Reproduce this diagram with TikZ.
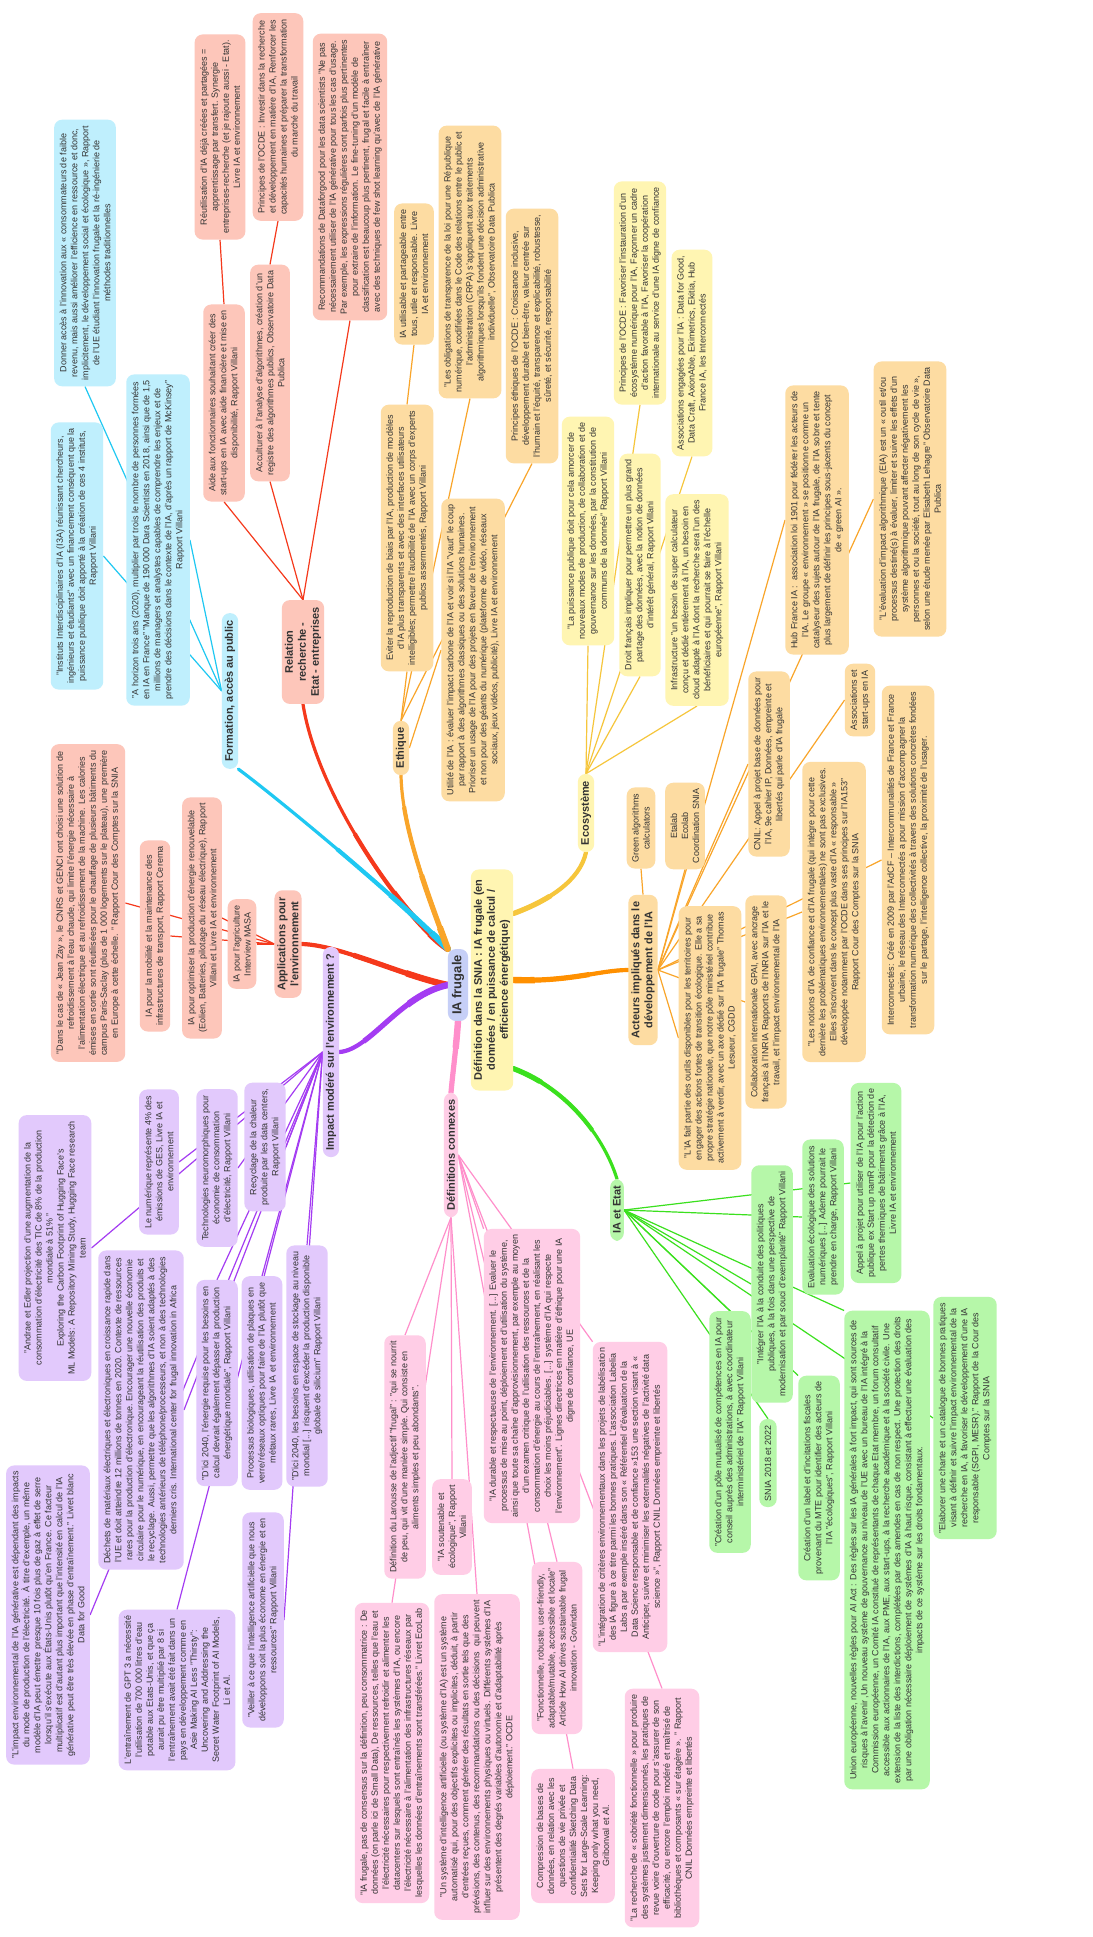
\documentclass[tikz,border=0pt]{standalone}
\usepackage{fontspec}
\setmainfont{Liberation Sans}
\usetikzlibrary{backgrounds,calc}
\definecolor{txt}{HTML}{333333}
\definecolor{redL}{HTML}{F5391C}
\definecolor{redF}{HTML}{FDC6BA}
\definecolor{cyanL}{HTML}{1FC8F2}
\definecolor{cyanF}{HTML}{BFEFFD}
\definecolor{oraL}{HTML}{F9A52A}
\definecolor{oraF}{HTML}{FDDCA2}
\definecolor{oraD}{HTML}{FF9000}
\definecolor{yelL}{HTML}{F6C63C}
\definecolor{yelF}{HTML}{FFF5B2}
\definecolor{grnL}{HTML}{3BE01E}
\definecolor{grnF}{HTML}{B6F7A9}
\definecolor{pnkL}{HTML}{FF8FCB}
\definecolor{pnkF}{HTML}{FFCDE6}
\definecolor{purL}{HTML}{A43CF2}
\definecolor{purF}{HTML}{E2C9FC}
\definecolor{ctrF}{HTML}{C6CFF7}
\tikzset{
  leaf/.style={rounded corners=8pt, rotate=90, align=center, inner xsep=6pt, inner ysep=5.5pt,
    font=\fontsize{9}{11}\selectfont, text=txt},
  mainb/.style={rounded corners=8pt, rotate=90, align=center, inner xsep=7pt, inner ysep=3pt,
    font=\fontsize{11}{13}\selectfont\bfseries, text=txt},
  rleaf/.style={leaf, fill=redF}, cleaf/.style={leaf, fill=cyanF}, oleaf/.style={leaf, fill=oraF},
  yleaf/.style={leaf, fill=yelF}, gleaf/.style={leaf, fill=grnF}, pleaf/.style={leaf, fill=pnkF},
  vleaf/.style={leaf, fill=purF},
  twig/.style={line width=1.2pt}
}
\newcommand\drawbranches[1]{%
\draw[line width=#1, line cap=round, redL] (ctr.north east) .. controls (410,925) and (318,800) .. (R0.west);
\draw[line width=#1, line cap=round, redL] (ctr.north) .. controls (400,975) and (340,945) .. (A0.south);
\draw[line width=#1, line cap=round, cyanL] (ctr.north east) .. controls (400,900) and (280,800) .. (F0.south west);
\draw[line width=#1, line cap=round, oraL] (ctr.north east) .. controls (430,900) and (402,830) .. (E0.west);
\draw[line width=#1, line cap=round, purL] (ctr.north) .. controls (400,995) and (370,1050) .. (I0.south);
\draw[line width=#1, line cap=round, pnkL] (ctr.west) .. controls (456,1050) and (453,1070) .. (P0.east);
\draw[line width=#1, line cap=round, yelL] ($(def.south)!0.6!(def.south east)$) .. controls (550,900) and (580,880) .. (Y0.west);
\draw[line width=#1, line cap=round, oraD] (def.south) .. controls (570,982) and (600,970) .. (Ac0.north);
\draw[line width=#1, line cap=round, grnL] ($(def.south)!0.8!(def.south west)$) .. controls (570,1090) and (605,1140) .. (G0.east);
}
\begin{document}
\begin{tikzpicture}[x=1pt,y=-1pt]
\useasboundingbox (0,0) rectangle (1092,1937);
% ---------- centre ----------
\node[rounded corners=8pt, rotate=90, fill=ctrF, text=txt, inner xsep=6pt, inner ysep=4pt,
  font=\fontsize{13}{15}\selectfont\bfseries] (ctr) at (458,985) {IA frugale};
\node[rounded corners=8pt, rotate=90, fill=yelF, text=txt, align=center, inner xsep=10pt, inner ysep=3pt,
  font=\fontsize{11}{13}\selectfont\bfseries] (def) at (492,980)
  {Définition dans la SNIA : IA frugale (en\\données / en puissance de calcul /\\efficience énergétique)};
% ---------- Relation ----------
\node[mainb, fill=redF] (R0) at (303,652) {Relation\\recherche -\\Etat - entreprises};
\node[rleaf] (r1) at (224,403) {Aide aux fonctionnaires souhaitant créer des\\start-ups en IA avec aide financière et mise en\\disponibilité, Rapport Villani};
\node[rleaf] (r2) at (220,137) {Réutilisation d'IA déjà créées et partagées =\\apprentissage par transfert. Synergie\\entreprises-recherche (et je rajoute aussi - Etat).\\Livre IA et environnement};
\node[rleaf] (r3) at (270,373) {Acculturer à l'analyse d'algorithmes, création d'un\\registre des algorithmes publics, Observatoire Data\\Publica};
\node[rleaf] (r4) at (278,117) {Principes de l'OCDE : Investir dans la recherche\\et développement en matière d'IA, Renforcer les\\capacités humaines et préparer la transformation\\du marché du travail};
\node[rleaf] (r5) at (350,177) {Recommandations de Dataforgood pour les data scientists "Ne pas\\nécessairement utiliser de l'IA générative pour tous les cas d'usage.\\Par exemple, les expressions régulières sont parfois plus pertinentes\\pour extraire de l'information. Le fine-tuning d'un modèle de\\classification est beaucoup plus pertinent, frugal et facile à entraîner\\avec des techniques de few shot learning qu'avec de l'IA générative};
% ---------- Formation ----------
\node[mainb, fill=cyanF] (F0) at (230,691) {Formation, accès au public};
\node[cleaf] (f1) at (158,540) {"A horizon trois ans (2020), multiplier par trois le nombre de personnes formées\\en IA en France" "Manque de 190 000 Dara Scientists en 2018, ainsi que de 1,5\\millions de managers et analystes capables de comprendre les enjeux et de\\prendre des décisions dans le contexte de l'IA, d'après un rapport de McKinsey"\\Rapport Villani};
\node[cleaf] (f2) at (77,556) {"Instituts Interdisciplinaires d'IA (I3A) réunissant chercheurs,\\ingénieurs et étudiants" avec un financement conséquent que la\\puissance publique doit apporté à la création de ces 4 instituts,\\Rapport Villani};
\node[cleaf] (f3) at (85,253) {Donner accès à l'innovation aux « consommateurs de faible\\revenu, mais aussi améliorer l'efficience en ressource et donc,\\implicitement, le développement social et écologique », Rapport\\de l'UE étudiant l'innovation frugale et la ré-ingénierie de\\méthodes traditionnelles};
% ---------- Applications ----------
\node[mainb, fill=redF] (A0) at (288,944) {Applications pour\\l'environnement};
\node[rleaf] (a1) at (242,944) {IA pour l'agriculture\\Interview MASA};
\node[rleaf] (a2) at (202,918) {IA pour optimiser la production d'énergie renouvelable\\(Eolien, Batteries, pilotage du réseau électrique), Rapport\\Villani et Livre IA et environnement};
\node[rleaf] (a3) at (155,936) {IA pour la mobilité et la maintenance des\\infrastructures de transport, Rapport Cerema};
\node[rleaf] (a4) at (88,903) {"Dans le cas de « Jean Zay », le CNRS et GENCI ont choisi une solution de\\refroidissement à l'eau chaude, qui limite l'énergie nécessaire à\\l'alimentation électrique et au refroidissement de la machine. Les calories\\émises en sortie sont réutilisées pour le chauffage de plusieurs bâtiments du\\campus Paris-Saclay (plus de 1 000 logements sur le plateau), une première\\en Europe à cette échelle. " Rapport Cour des Comptes sur la SNIA};
% ---------- Impact ----------
\node[mainb, fill=purF] (I0) at (331,1052) {Impact modéré sur l'environnement ?};
\node[vleaf] (i1) at (265,1147) {Recyclage de la chaleur\\produite par les data centers,\\Rapport Villani};
\node[vleaf] (i2) at (217,1168) {Technologies neuromorphiques pour\\économie de consommation\\d'électricité, Rapport Villani};
\node[vleaf] (i3) at (159,1162) {Le numérique représente 4\% des\\émissions de GES, Livre IA et\\environnement};
\node[vleaf] (i4) at (55,1248) {"Andrae et Edler projection d'une augmentation de la\\consommation d'électricité des TIC de 8\% de la production\\mondiale à 51\% "\\Exploring the Carbon Footprint of Hugging Face's\\ML Models: A Repository Mining Study, Hugging Face research\\team};
\node[vleaf] (i5) at (307,1366) {"D'ici 2040, les besoins en espace de stockage au niveau\\mondial [...] risquent d'excéder la production disponible\\globale de silicium" Rapport Villani};
\node[vleaf] (i6) at (262,1383) {Processus biologiques, utilisation de plaques en\\verre/réseaux optiques pour faire de l'IA plutôt que\\métaux rares, Livre IA et environnement};
\node[vleaf] (i7) at (217,1383) {"D'ici 2040, l'énergie requise pour les besoins en\\calcul devrait également dépasser la production\\énergétique mondiale", Rapport Villani};
\node[vleaf] (i8) at (141,1410) {Déchets de matériaux électriques et électroniques en croissance rapide dans\\l'UE et doit atteindre 12 millions de tonnes en 2020. Contexte de ressources\\rares pour la production d'électronique. Encourager une nouvelle économie\\circulaire pour le numérique, en encourageant la réutilisation des produits et\\le recyclage. Aussi, permettre que les algorithmes d'IA soient adaptés à des\\technologies antérieurs de téléphone/processeurs, et non à des technologies\\derniers cris. International center for frugal innovation in Africa};
\node[vleaf] (i9) at (48,1615) {"L'impact environnemental de l'IA générative est dépendant des impacts\\du mode de production de l'électricité. À titre d'exemple, un même\\modèle d'IA peut émettre presque 10 fois plus de gaz à effet de serre\\lorsqu'il s'exécute aux États-Unis plutôt qu'en France. Ce facteur\\multiplicatif est d'autant plus important que l'intensité en calcul de l'IA\\générative peut être très élevée en phase d'entraînement." Livret blanc\\Data for Good};
\node[vleaf] (i10) at (177,1690) {L'entraînement de GPT 3 a nécessité\\l'utilisation de 700 000 litres d'eau\\potable aux Etats-Unis, et que ça\\aurait pu être multiplié par 8 si\\l'entraînement avait été fait dans un\\pays en développement comme en\\Asie Making AI Less "Thirsty":\\Uncovering and Addressing the\\Secret Water Footprint of AI Models,\\Li et Al.};
\node[vleaf] (i11) at (263,1620) {"Veiller à ce que l'intelligence artificielle que nous\\développons soit la plus économe en énergie et en\\ressources" Rapport Villani};
% ---------- Ethique ----------
\node[mainb, fill=oraF] (E0) at (401,748) {Ethique};
\node[oleaf] (e1) at (407,538) {Eviter la reproduction de biais par l'IA, production de modèles\\d'IA plus transparents et avec des interfaces utilisateurs\\intelligibles; permettre l'audibilité de l'IA avec un corps d'experts\\publics assermentés, Rapport Villani};
\node[oleaf] (e2) at (414,274) {IA utilisable et partageable entre\\tous, utile et responsable. Livre\\IA et environnement};
\node[oleaf] (e3) at (470,262) {"Les obligations de transparence de la loi pour une République\\numérique, codifiées dans le Code des relations entre le public et\\l'administration (CRPA) s'appliquent aux traitements\\algorithmiques lorsqu'ils fondent une décision administrative\\individuelle", Observatoire Data Publica};
\node[oleaf] (e4) at (473,650) {Utilité de l'IA : évaluer l'impact carbone de l'IA et voir si l'IA "vaut" le coup\\par rapport à des algorithmes classiques ou des solutions humaines.\\Prioriser un usage de l'IA pour des projets en faveur de l'environnement\\et non pour des géants du numérique (plateforme de vidéo, réseaux\\sociaux, jeux vidéos, publicité), Livre IA et environnement};
\node[oleaf] (e5) at (532,336) {Principes éthiques de l'OCDE : Croissance inclusive,\\développement durable et bien-être, valeur centrée sur\\l'humain et l'équité, transparence et explicabilité, robustesse,\\sûreté, et sécurité, responsabilité};
% ---------- Ecosysteme ----------
\node[mainb, fill=yelF] (Y0) at (586,813) {Ecosystème};
\node[yleaf] (y1) at (588,531) {"La puissance publique doit pour cela amorcer de\\nouveaux modes de production, de collaboration et de\\gouvernance sur les données, par la constitution de\\communs de la donnée" Rapport Villani};
\node[yleaf] (y2) at (640,565) {Droit français impliquer pour permettre un plus grand\\partage des données, avec la notion de données\\d'intérêt général, Rapport Villani};
\node[yleaf] (y3) at (640,293) {Principes de l'OCDE : Favoriser l'instauration d'un\\écosystème numérique pour l'IA, Façonner un cadre\\d'action favorable à l'IA, Favoriser la coopération\\internationale au service d'une IA digne de confiance};
\node[yleaf] (y4) at (697,600) {Infrastructure "un besoin de super calculateur\\conçu et dédié entièrement à l'IA, un besoin en\\cloud adapté à l'IA dont la recherche sera l'un des\\bénéficiaires et qui pourrait se faire à l'échelle\\européenne", Rapport Villani};
\node[yleaf] (y5) at (692,353) {Associations engagées pour l'IA : Data for Good,\\Data Craft, AxionAble, Ekimetrics, Ekitia, Hub\\France IA, les Interconnectés};
% ---------- Acteurs ----------
\node[mainb, fill=oraF] (Ac0) at (643,970) {Acteurs impliqués dans le\\développement de l'IA};
\node[oleaf] (c1) at (641,828) {Green algorithms\\calculators};
\node[oleaf] (c2) at (685,826) {Etalab\\Ecolab\\Coordination SNIA};
\node[oleaf] (c3) at (710,1038) {"L'IA fait partie des outils disponibles pour les territoires pour\\engager des actions fortes de transition écologique. Elle a sa\\propre stratégie nationale, que notre pôle ministériel contribue\\activement à verdir, avec un axe dédié sur l'IA frugale" Thomas\\Lesueur, CGDD};
\node[oleaf] (c4) at (769,764) {CNIL: Appel à projet base de données pour\\l'IA, 9e cahier IP, Données, empreinte et\\libertés qui parle d'IA frugale};
\node[oleaf] (c5) at (860,700) {Associations et\\start-ups en IA};
\node[oleaf] (c6) at (817,520) {Hub France IA :\ \ association loi 1901 pour fédérer les acteurs de\\l'IA. Le groupe « environnement » se positionne comme un\\catalyseur des sujets autour de l'IA frugale, de l'IA sobre et tente\\plus largement de définir les principes sous-jacents du concept\\de « green AI ».};
\node[oleaf] (c7) at (910,499) {"L'évaluation d'impact algorithmique (EIA) est un « outil et/ou\\processus destiné(s) à évaluer, limiter et suivre les effets d'un\\système algorithmique pouvant affecter négativement les\\personnes et ou la société, tout au long de son cycle de vie »,\\selon une étude menée par Elisabeth Lehagre" Observatoire Data\\Publica};
\node[oleaf] (c8) at (834,912) {"Les notions d'IA de confiance et d'IA frugale (qui intègre pour cette\\dernière les problématiques environnementales) ne sont pas exclusives.\\Elles s'inscrivent dans le concept plus vaste d'IA « responsable »\\développée notamment par l'OCDE dans ses principes sur l'IA153"\\Rapport Cour des Comptes sur la SNIA};
\node[oleaf] (c9) at (766,1002) {Collaboration internationale GPAI, avec ancrage\\français à l'INRIA Rapports de l'INRIA sur l'IA et le\\travail, et l'impact environnemental de l'IA};
\node[oleaf] (c10) at (908,860) {Interconnectés: Créé en 2009 par l'AdCF – Intercommunalités de France et France\\urbaine, le réseau des Interconnectés a pour mission d'accompagner la\\transformation numérique des collectivités à travers des solutions concrètes fondées\\sur le partage, l'intelligence collective, la proximité de l'usager.};
% ---------- IA et Etat ----------
\node[mainb, fill=grnF] (G0) at (617,1210) {IA et Etat};
\node[gleaf] (g1) at (772,1284) {"Intégrer l'IA à la conduite des politiques\\publiques, à la fois dans une perspective de\\modernisation et par souci d'exemplarité" Rapport Villani};
\node[gleaf] (g2) at (823,1217) {Evaluation écologique des solutions\\numériques [...] Ademe pourrait le\\prendre en charge, Rapport Villani};
\node[gleaf] (g3) at (876,1183) {Appel à projet pour utiliser de l'IA pour l'action\\publique ex Start up namR pour la détection de\\pertes thermiques de bâtiments grâce à l'IA,\\Livre IA et environnement};
\node[gleaf] (g4) at (887,1550) {Union européenne, nouvelles règles pour AI Act : Des règles sur les IA générales à fort impact, qui sont sources de\\risques à l'avenir ,Un nouveau système de gouvernance au niveau de l'UE avec un bureau de l'IA intégré à la\\Commission européenne, un Comité IA constitué de représentants de chaque Etat membre, un forum consultatif\\accessible aux actionnaires de l'IA, aux PME, aux start-ups, à la recherche académique et à la société civile. Une\\extension de la liste des interdictions, complétées par des amendes en cas de non respect. Une protection des droits\\par une obligation nécessaire déploiement de systèmes d'IA à haut risque, consistant à effectuer une évaluation des\\impacts de ce système sur les droits fondamentaux.};
\node[gleaf] (g5) at (965,1418) {"Elaborer une charte et un catalogue de bonnes pratiques\\visant à définir et suivre l'impact environnemental de la\\recherche en IA, à favoriser le développement d'une IA\\responsable (SGPI, MESR)." Rapport de la Cour des\\Comptes sur la SNIA};
\node[gleaf] (g6) at (819,1478) {Création d'un label et d'incitations fiscales\\provenant du MTE pour identifier des acteurs de\\l'IA "écologiques", Rapport Villani};
\node[gleaf] (g7) at (768,1463) {SNIA 2018 et 2022};
\node[gleaf] (g8) at (730,1432) {"Création d'un pôle mutualisé de compétences en IA pour\\conseil auprès des administrations, à avec coordinateur\\interministériel de l'IA" Rapport Villani};
% ---------- Definitions ----------
\node[mainb, fill=pnkF] (P0) at (451,1155) {Définitions connexes};
\node[pleaf] (p1) at (405,1457) {Définition du Larousse de l'adjectif "frugal" : "qui se nourrit\\de peu, qui vit d'une manière simple. Qui consiste en\\aliments simples et peu abondants".};
\node[pleaf] (p2) at (452,1527) {"IA soutenable et\\écologique", Rapport\\Villani};
\node[pleaf] (p3) at (392,1753) {"IA frugale, pas de consensus sur la définition, peu consommatrice : De\\données (on parle ici de Small Data), De ressources, telles que l'eau et\\l'électricité nécessaires pour respectivement refroidir et alimenter les\\datacenters sur lesquels sont entraînés les systèmes d'IA, ou encore\\l'électricité nécessaire à l'alimentation des infrastructures réseaux par\\lesquelles les données d'entraînements sont transférées." Livret EcoLab};
\node[pleaf] (p4) at (477,1757) {"Un système d'intelligence artificielle (ou système d'IA) est un système\\automatisé qui, pour des objectifs explicites ou implicites, déduit, à partir\\d'entrées reçues, comment générer des résultats en sortie tels que des\\prévisions, des contenus, des recommandations ou des décisions\ \ qui peuvent\\influer sur des environnements physiques ou virtuels. Différents systèmes d'IA\\présentent des degrés variables d'autonomie et d'adaptabilité après\\déploiement." OCDE};
\node[pleaf] (p5) at (532,1376) {"IA durable et respectueuse de l'environnement. [...] Evaluer le\\processus de mise au point, déploiement et d'utilisation du système,\\ainsi que toute sa chaîne d'approvisionnement, par exemple au moyen\\d'un examen critique de l'utilisation des ressources et de la\\consommation d'énergie au cours de l'entraînement, en réalisant les\\choix les moins préjudiciables. [...] système d'IA qui respecte\\l'environnement". Lignes directrices en matière d'éthique pour une IA\\digne de confiance, UE};
\node[pleaf] (p6) at (557,1648) {"Fonctionnelle, robuste, user-friendly,\\adaptable/mutable, accessible et locale"\\Article How AI drives sustainable frugal\\innovation - Govindan};
\node[pleaf] (p7) at (573,1836) {Compression de bases de\\données, en relation avec les\\questions de vie privée et\\confidentialité Sketching Data\\Sets for Large-Scale Learning:\\Keeping only what you need,\\Gribonval et Al.};
\node[pleaf] (p8) at (630,1497) {"L'intégration de critères environnementaux dans les projets de labélisation\\des IA figure à ce titre parmi les bonnes pratiques. L'association Labelia\\Labs a par exemple inséré dans son « Référentiel d'évaluation de la\\Data Science responsable et de confiance »153 une section visant à «\\Anticiper, suivre et minimiser les externalités négatives de l'activité data\\science »", Rapport CNIL Données empreinte et libertés};
\node[pleaf] (p9) at (662,1808) {"La recherche de « sobriété fonctionnelle » pour produire\\des systèmes justement dimensionnés, les pratiques de\\revue voire d'ouverture de code pour s'assurer de son\\efficacité, ou encore l'emploi modéré et maîtrisé de\\bibliothèques et composants « sur étagère ». " Rapport\\CNIL Données empreinte et libertés};
% ---------- connectors ----------
\begin{pgfonlayer}{background}
\fill[white] (0,0) rectangle (1092,1937);
% main branches, tapering away from the centre
\drawbranches{3.2pt}
\begin{scope}\clip (470,985) circle (190); \drawbranches{4.2pt}\end{scope}
\begin{scope}\clip (470,985) circle (120); \drawbranches{5.2pt}\end{scope}
\begin{scope}\clip (470,985) circle (65); \drawbranches{6.4pt}\end{scope}
% Relation
\foreach \c in {r1,r3,r5} \draw[twig, redL] (R0.east) -- (\c.west);
\draw[twig, redL] (r1.east) -- (r2.west);
\draw[twig, redL] (r3.east) -- (r4.west);
% Formation
\draw[twig, cyanL] (F0.north) -- (f1.south);
\draw[twig, cyanL] (F0.north) -- (f2.south);
\draw[twig, cyanL] (F0.north) -- (f3.west);
% Applications
\foreach \c in {a1,a2,a3,a4} \draw[twig, redL] (A0.north) -- (\c.south);
% Impact
\foreach \c in {i1,i2,i3,i4,i8,i9,i11} \draw[twig, purL] (I0.north) -- (\c.south);
\foreach \c in {i5,i6,i7,i10} \draw[twig, purL] (I0.north) -- (\c.east);
% Ethique
\foreach \c in {e1,e3,e5} \draw[twig, oraL] (E0.east) -- (\c.west);
\draw[twig, oraL] (e1.east) -- (e2.west);
\draw[twig, oraL] (E0.south) -- (e4.north);
% Ecosysteme
\foreach \c in {y1,y2,y3,y4,y5} \draw[twig, yelL] (Y0.east) -- (\c.west);
% Acteurs
\draw[twig, oraL] (Ac0.east) -- (c1.west);
\draw[twig, oraL] (Ac0.south) -- (c2.west);
\foreach \c in {c3,c4,c5,c6,c7,c8,c9,c10} \draw[twig, oraL] (Ac0.south) -- (\c.north);
% IA et Etat
\foreach \c in {g1,g2,g3,g5} \draw[twig, grnL] (G0.south) -- (\c.north);
\draw[twig, grnL] (G0.south) -- (g4.north east);
\draw[twig, grnL] (G0.south) -- (g6.north east);
\draw[twig, grnL] (G0.south) -- (g7.east);
\draw[twig, grnL] (G0.south) -- (g8.east);
% Definitions
\foreach \c in {p1,p2,p3,p4} \draw[twig, pnkL] (P0.west) -- (\c.east);
\foreach \c in {p6,p7,p9} \draw[twig, pnkL] (P0.south) -- (\c.east);
\draw[twig, pnkL] (P0.south) -- (p5.north east);
\draw[twig, pnkL] (P0.south) -- (p8.north east);
\end{pgfonlayer}
\end{tikzpicture}
\end{document}
